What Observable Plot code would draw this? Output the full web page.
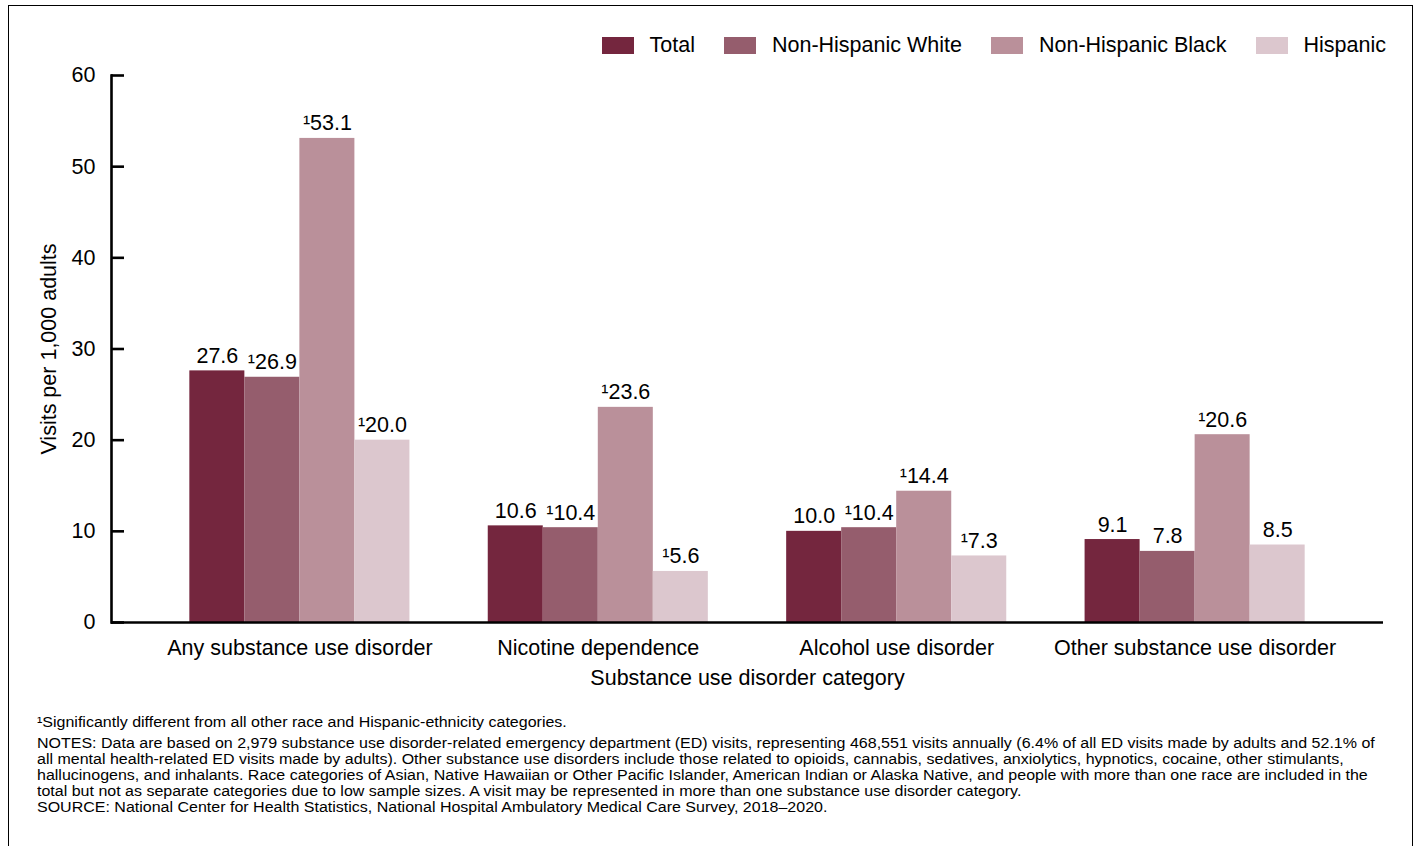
<!DOCTYPE html>
<html><head><meta charset="utf-8">
<script src="https://cdn.jsdelivr.net/npm/d3@7"></script>
<script src="https://cdn.jsdelivr.net/npm/@observablehq/plot@0.6"></script>
<style>
html,body{margin:0;padding:0;background:#fff;}
body{width:1420px;height:846px;position:relative;overflow:hidden;font-family:"Liberation Sans",Arial,sans-serif;color:#000;}
#frame{position:absolute;left:8px;top:5px;width:1405px;height:900px;border:1.5px solid #000;box-sizing:border-box;pointer-events:none;}
#legend{position:absolute;top:35px;right:34px;display:flex;align-items:center;font-size:21.5px;height:20px;line-height:20px;}
.item{display:flex;align-items:center;margin-left:29.5px;}
.sw{width:32px;height:17px;margin-right:15.5px;}
#chart{position:absolute;left:0;top:62px;}
#notes{position:absolute;left:37px;top:714px;font-size:14px;line-height:16px;white-space:nowrap;transform:scaleX(1.143);transform-origin:0 0;}
#notes .first{margin-bottom:5px;}
</style>
</head><body>
<div id="frame"></div>
<div id="legend"></div>
<div id="chart"></div>
<div id="notes">
<div class="first">¹Significantly different from all other race and Hispanic-ethnicity categories.</div>
<div>NOTES: Data are based on 2,979 substance use disorder-related emergency department (ED) visits, representing 468,551 visits annually (6.4% of all ED visits made by adults and 52.1% of<br>all mental health-related ED visits made by adults). Other substance use disorders include those related to opioids, cannabis, sedatives, anxiolytics, hypnotics, cocaine, other stimulants,<br>hallucinogens, and inhalants. Race categories of Asian, Native Hawaiian or Other Pacific Islander, American Indian or Alaska Native, and people with more than one race are included in the<br>total but not as separate categories due to low sample sizes. A visit may be represented in more than one substance use disorder category.<br>SOURCE: National Center for Health Statistics, National Hospital Ambulatory Medical Care Survey, 2018–2020.</div>
</div>
<script>
const categories = ["Any substance use disorder","Nicotine dependence","Alcohol use disorder","Other substance use disorder"];
const seriesNames = ["Total","Non-Hispanic White","Non-Hispanic Black","Hispanic"];
const total    = [27.6, 10.6, 10.0, 9.1];
const white    = [26.9, 10.4, 10.4, 7.8];
const black    = [53.1, 23.6, 14.4, 20.6];
const hispanic = [20.0, 5.6, 7.3, 8.5];
const sigTotal    = [false, false, false, false];
const sigWhite    = [true, true, true, false];
const sigBlack    = [true, true, true, true];
const sigHispanic = [true, true, true, false];
const yTicks = [0, 10, 20, 30, 40, 50, 60];
const colors = ["#74263e", "#955d6d", "#ba909a", "#dcc7ce"];

const seriesValues = [total, white, black, hispanic];
const seriesSig = [sigTotal, sigWhite, sigBlack, sigHispanic];

const W = 1420, H = 640, mL = 111, mR = 37, mT = 13, mB = 80, pad = 0.2625;
const bw = d3.scaleBand(categories, [mL, W - mR]).padding(pad).bandwidth();
const sub = bw / seriesNames.length;

const rows = seriesNames.map((s, k) => categories.map((c, i) => ({
  category: c, series: s, value: seriesValues[k][i], sig: seriesSig[k][i]
})));

// legend
const legend = document.getElementById("legend");
seriesNames.forEach((s, k) => {
  const it = document.createElement("div"); it.className = "item";
  const sw = document.createElement("div"); sw.className = "sw"; sw.style.background = colors[k];
  const tx = document.createElement("span"); tx.textContent = s;
  it.appendChild(sw); it.appendChild(tx); legend.appendChild(it);
});

const marks = [];
rows.forEach((data, k) => {
  marks.push(Plot.barY(data, {x: "category", y: "value", fill: colors[k],
    insetLeft: k * sub, insetRight: (seriesNames.length - 1 - k) * sub}));
  marks.push(Plot.text(data, {x: "category", y: "value",
    text: d => (d.sig ? "¹" : "") + d.value.toFixed(1),
    dx: (k - (seriesNames.length - 1) / 2) * sub, dy: -8, lineAnchor: "bottom", fill: "#000"}));
});

const chart = Plot.plot({
  width: W, height: H, marginLeft: mL, marginRight: mR, marginTop: mT, marginBottom: mB,
  style: {fontSize: "21.5px", fontFamily: "'Liberation Sans', Arial, sans-serif", color: "#000", background: "transparent"},
  x: {domain: categories, padding: pad, round: false},
  y: {domain: [0, 60]},
  marks: [
    ...marks,
    Plot.axisY({ticks: yTicks, tickSize: 13, dx: 13, fill: null, strokeWidth: 2.6, label: null}),
    Plot.axisY({ticks: yTicks, tickSize: 0, tickPadding: 16, label: "Visits per 1,000 adults", labelAnchor: "center", labelOffset: 71, labelArrow: "none"}),
    Plot.axisX({tickSize: 0, tickPadding: 17, label: "Substance use disorder category", labelAnchor: "center", labelOffset: 62, labelArrow: "none"}),
    Plot.ruleY([0], {strokeWidth: 2.6}),
    Plot.frame({anchor: "left", strokeWidth: 2.6})
  ]
});
document.getElementById("chart").appendChild(chart);
</script>
</body></html>
